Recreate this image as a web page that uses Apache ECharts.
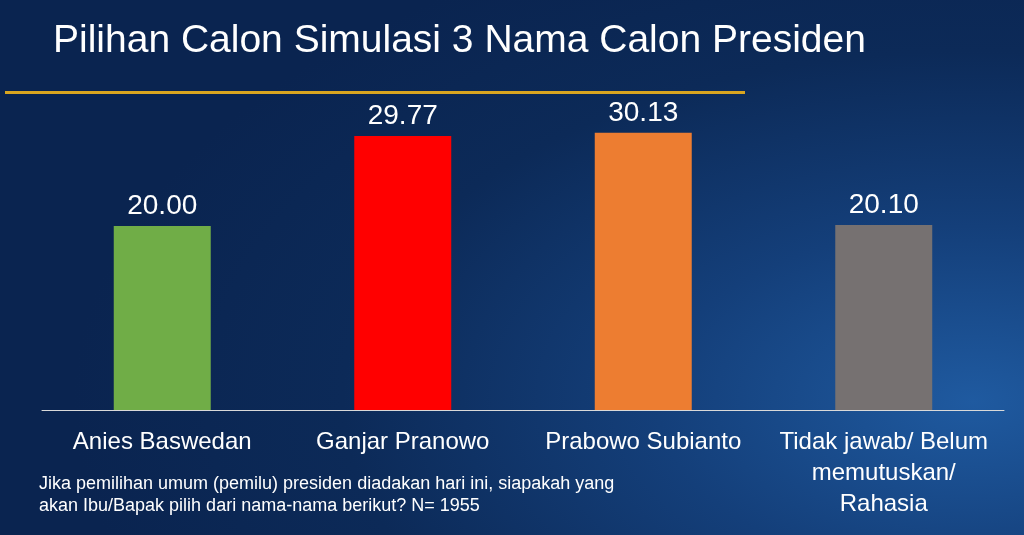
<!DOCTYPE html>
<html><head><meta charset="utf-8">
<script src="https://cdn.jsdelivr.net/npm/echarts@6/dist/echarts.min.js"></script>
<style>
html,body{margin:0;padding:0;}
#c{width:1024px;height:535px;background:radial-gradient(ellipse 900px 500px at 95% 75%, #1f5aa0 0%, #143f7a 35%, #0c2a58 70%, #0a2450 100%);}
</style></head><body>
<div id="c"></div>
<script>
const categories = ['Anies Baswedan', 'Ganjar Pranowo', 'Prabowo Subianto', 'Tidak jawab/ Belum\nmemutuskan/\nRahasia'];
const values = [20.00, 29.77, 30.13, 20.10];
const colors = ['#70ad47', '#ff0000', '#ed7d31', '#767171'];
const title = 'Pilihan Calon Simulasi 3 Nama Calon Presiden';
const note = 'Jika pemilihan umum (pemilu) presiden diadakan hari ini, siapakah yang\nakan Ibu/Bapak pilih dari nama-nama berikut? N= 1955';

const chart = echarts.init(document.getElementById('c'));
chart.setOption({
  backgroundColor: 'transparent',
  title: [{text: title, left: 48, top: 17, textStyle: {color: '#fff', fontSize: 39, fontWeight: 'normal', fontFamily: 'Liberation Sans'}},
          {text: note, left: 34, top: 468, textStyle: {color: '#fff', fontSize: 18, fontWeight: 'normal', fontFamily: 'Liberation Sans', lineHeight: 22}}],
  graphic: [{type: 'rect', shape: {x: 5, y: 91, width: 740, height: 3}, style: {fill: '#d9a520'}}],
  grid: {left: 42, right: 20, top: 42, bottom: 125},
  xAxis: {type: 'category', data: categories,
    axisLine: {lineStyle: {color: '#d9d9d9', width: 1}}, axisTick: {show: false},
    axisLabel: {color: '#fff', fontSize: 24, fontFamily: 'Liberation Sans', margin: 17, lineHeight: 31, interval: 0, verticalAlign: 'top'}},
  yAxis: {type: 'value', min: 0, max: 40, show: false, splitLine: {show: false}},
  series: [{type: 'bar', barWidth: 97,
    data: values.map((v, i) => ({value: v, itemStyle: {color: colors[i]}})),
    label: {show: true, position: 'top', distance: 6, color: '#fff', fontSize: 28, fontFamily: 'Liberation Sans', formatter: p => p.value.toFixed(2)}}]
});
</script></body></html>
